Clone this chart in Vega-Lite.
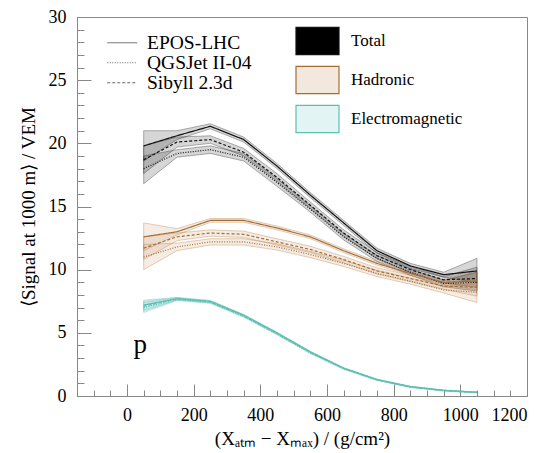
{
 "$schema": "https://vega.github.io/schema/vega-lite/v6.json",
 "width": 450, "height": 379,
 "autosize": {"type": "none"},
 "padding": {"left": 77, "top": 17, "right": 17, "bottom": 57},
 "background": "white",
 "config": {
  "view": {"stroke": "#888", "strokeWidth": 1},
  "font": "Liberation Serif, serif",
  "axis": {"labelFont": "Liberation Serif, serif", "titleFont": "Liberation Serif, serif", "labelFontSize": 18, "titleFontSize": 19, "labelColor": "#000", "titleColor": "#000", "titleFontWeight": "normal", "domainColor": "#888", "tickColor": "#888", "grid": false}
 },
 "datasets": {
  "sig": [
   {"c":"Total","m":"EPOS-LHC","x":50,"y":19.8,"lo":18.6,"hi":21.0},
   {"c":"Total","m":"EPOS-LHC","x":150,"y":20.6,"lo":20.3,"hi":21.0},
   {"c":"Total","m":"EPOS-LHC","x":250,"y":21.35,"lo":21.15,"hi":21.55},
   {"c":"Total","m":"EPOS-LHC","x":350,"y":20.3,"lo":20.1,"hi":20.5},
   {"c":"Total","m":"EPOS-LHC","x":450,"y":18.2,"lo":18.0,"hi":18.4},
   {"c":"Total","m":"EPOS-LHC","x":550,"y":15.9,"lo":15.7,"hi":16.1},
   {"c":"Total","m":"EPOS-LHC","x":650,"y":13.7,"lo":13.5,"hi":13.9},
   {"c":"Total","m":"EPOS-LHC","x":750,"y":11.5,"lo":11.3,"hi":11.7},
   {"c":"Total","m":"EPOS-LHC","x":850,"y":10.3,"lo":10.1,"hi":10.5},
   {"c":"Total","m":"EPOS-LHC","x":950,"y":9.6,"lo":9.4,"hi":9.8},
   {"c":"Total","m":"EPOS-LHC","x":1050,"y":9.9,"lo":9.0,"hi":10.9},
   {"c":"Total","m":"Sibyll 2.3d","x":50,"y":18.7,"lo":17.6,"hi":19.8},
   {"c":"Total","m":"Sibyll 2.3d","x":150,"y":20.1,"lo":19.7,"hi":20.5},
   {"c":"Total","m":"Sibyll 2.3d","x":250,"y":20.3,"lo":20.0,"hi":20.6},
   {"c":"Total","m":"Sibyll 2.3d","x":350,"y":19.3,"lo":19.0,"hi":19.6},
   {"c":"Total","m":"Sibyll 2.3d","x":450,"y":17.3,"lo":17.0,"hi":17.6},
   {"c":"Total","m":"Sibyll 2.3d","x":550,"y":15.1,"lo":14.85,"hi":15.35},
   {"c":"Total","m":"Sibyll 2.3d","x":650,"y":12.9,"lo":12.65,"hi":13.15},
   {"c":"Total","m":"Sibyll 2.3d","x":750,"y":11.1,"lo":10.85,"hi":11.35},
   {"c":"Total","m":"Sibyll 2.3d","x":850,"y":10.0,"lo":9.75,"hi":10.25},
   {"c":"Total","m":"Sibyll 2.3d","x":950,"y":9.2,"lo":8.95,"hi":9.45},
   {"c":"Total","m":"Sibyll 2.3d","x":1050,"y":9.3,"lo":8.6,"hi":10.2},
   {"c":"Total","m":"QGSJet II-04","x":50,"y":18.0,"lo":16.8,"hi":19.0},
   {"c":"Total","m":"QGSJet II-04","x":150,"y":19.2,"lo":18.9,"hi":19.5},
   {"c":"Total","m":"QGSJet II-04","x":250,"y":19.5,"lo":19.2,"hi":19.8},
   {"c":"Total","m":"QGSJet II-04","x":350,"y":18.9,"lo":18.6,"hi":19.2},
   {"c":"Total","m":"QGSJet II-04","x":450,"y":16.9,"lo":16.6,"hi":17.2},
   {"c":"Total","m":"QGSJet II-04","x":550,"y":14.8,"lo":14.55,"hi":15.05},
   {"c":"Total","m":"QGSJet II-04","x":650,"y":12.6,"lo":12.35,"hi":12.85},
   {"c":"Total","m":"QGSJet II-04","x":750,"y":10.9,"lo":10.65,"hi":11.15},
   {"c":"Total","m":"QGSJet II-04","x":850,"y":9.8,"lo":9.55,"hi":10.05},
   {"c":"Total","m":"QGSJet II-04","x":950,"y":8.9,"lo":8.65,"hi":9.15},
   {"c":"Total","m":"QGSJet II-04","x":1050,"y":9.0,"lo":8.3,"hi":9.8},
   {"c":"Hadronic","m":"EPOS-LHC","x":50,"y":12.6,"lo":11.5,"hi":13.7},
   {"c":"Hadronic","m":"EPOS-LHC","x":150,"y":13.0,"lo":12.75,"hi":13.25},
   {"c":"Hadronic","m":"EPOS-LHC","x":250,"y":13.9,"lo":13.75,"hi":14.05},
   {"c":"Hadronic","m":"EPOS-LHC","x":350,"y":13.9,"lo":13.75,"hi":14.05},
   {"c":"Hadronic","m":"EPOS-LHC","x":450,"y":13.3,"lo":13.15,"hi":13.45},
   {"c":"Hadronic","m":"EPOS-LHC","x":550,"y":12.6,"lo":12.45,"hi":12.75},
   {"c":"Hadronic","m":"EPOS-LHC","x":650,"y":11.5,"lo":11.35,"hi":11.65},
   {"c":"Hadronic","m":"EPOS-LHC","x":750,"y":10.5,"lo":10.35,"hi":10.65},
   {"c":"Hadronic","m":"EPOS-LHC","x":850,"y":9.7,"lo":9.55,"hi":9.85},
   {"c":"Hadronic","m":"EPOS-LHC","x":950,"y":9.0,"lo":8.8,"hi":9.2},
   {"c":"Hadronic","m":"EPOS-LHC","x":1050,"y":9.1,"lo":8.4,"hi":9.8},
   {"c":"Hadronic","m":"Sibyll 2.3d","x":50,"y":11.7,"lo":10.8,"hi":12.6},
   {"c":"Hadronic","m":"Sibyll 2.3d","x":150,"y":12.6,"lo":12.3,"hi":12.9},
   {"c":"Hadronic","m":"Sibyll 2.3d","x":250,"y":12.9,"lo":12.65,"hi":13.15},
   {"c":"Hadronic","m":"Sibyll 2.3d","x":350,"y":12.8,"lo":12.55,"hi":13.05},
   {"c":"Hadronic","m":"Sibyll 2.3d","x":450,"y":12.2,"lo":11.95,"hi":12.45},
   {"c":"Hadronic","m":"Sibyll 2.3d","x":550,"y":11.6,"lo":11.35,"hi":11.85},
   {"c":"Hadronic","m":"Sibyll 2.3d","x":650,"y":10.8,"lo":10.55,"hi":11.05},
   {"c":"Hadronic","m":"Sibyll 2.3d","x":750,"y":9.9,"lo":9.65,"hi":10.15},
   {"c":"Hadronic","m":"Sibyll 2.3d","x":850,"y":9.3,"lo":9.05,"hi":9.55},
   {"c":"Hadronic","m":"Sibyll 2.3d","x":950,"y":8.7,"lo":8.45,"hi":8.95},
   {"c":"Hadronic","m":"Sibyll 2.3d","x":1050,"y":8.6,"lo":7.9,"hi":9.3},
   {"c":"Hadronic","m":"QGSJet II-04","x":50,"y":11.0,"lo":10.0,"hi":12.0},
   {"c":"Hadronic","m":"QGSJet II-04","x":150,"y":11.8,"lo":11.5,"hi":12.1},
   {"c":"Hadronic","m":"QGSJet II-04","x":250,"y":12.2,"lo":11.95,"hi":12.45},
   {"c":"Hadronic","m":"QGSJet II-04","x":350,"y":12.2,"lo":11.95,"hi":12.45},
   {"c":"Hadronic","m":"QGSJet II-04","x":450,"y":11.8,"lo":11.55,"hi":12.05},
   {"c":"Hadronic","m":"QGSJet II-04","x":550,"y":11.2,"lo":10.95,"hi":11.45},
   {"c":"Hadronic","m":"QGSJet II-04","x":650,"y":10.5,"lo":10.25,"hi":10.75},
   {"c":"Hadronic","m":"QGSJet II-04","x":750,"y":9.7,"lo":9.45,"hi":9.95},
   {"c":"Hadronic","m":"QGSJet II-04","x":850,"y":9.1,"lo":8.85,"hi":9.35},
   {"c":"Hadronic","m":"QGSJet II-04","x":950,"y":8.4,"lo":8.15,"hi":8.65},
   {"c":"Hadronic","m":"QGSJet II-04","x":1050,"y":8.2,"lo":7.4,"hi":8.9},
   {"c":"Electromagnetic","m":"EPOS-LHC","x":50,"y":7.2,"lo":6.8,"hi":7.6},
   {"c":"Electromagnetic","m":"EPOS-LHC","x":150,"y":7.7,"lo":7.6,"hi":7.8},
   {"c":"Electromagnetic","m":"EPOS-LHC","x":250,"y":7.5,"lo":7.42,"hi":7.58},
   {"c":"Electromagnetic","m":"EPOS-LHC","x":350,"y":6.4,"lo":6.33,"hi":6.47},
   {"c":"Electromagnetic","m":"EPOS-LHC","x":450,"y":5.0,"lo":4.94,"hi":5.06},
   {"c":"Electromagnetic","m":"EPOS-LHC","x":550,"y":3.5,"lo":3.45,"hi":3.55},
   {"c":"Electromagnetic","m":"EPOS-LHC","x":650,"y":2.2,"lo":2.16,"hi":2.24},
   {"c":"Electromagnetic","m":"EPOS-LHC","x":750,"y":1.3,"lo":1.27,"hi":1.33},
   {"c":"Electromagnetic","m":"EPOS-LHC","x":850,"y":0.75,"lo":0.72,"hi":0.78},
   {"c":"Electromagnetic","m":"EPOS-LHC","x":950,"y":0.45,"lo":0.42,"hi":0.48},
   {"c":"Electromagnetic","m":"EPOS-LHC","x":1050,"y":0.3,"lo":0.27,"hi":0.33},
   {"c":"Electromagnetic","m":"Sibyll 2.3d","x":50,"y":7.1,"lo":6.7,"hi":7.5},
   {"c":"Electromagnetic","m":"Sibyll 2.3d","x":150,"y":7.7,"lo":7.6,"hi":7.8},
   {"c":"Electromagnetic","m":"Sibyll 2.3d","x":250,"y":7.45,"lo":7.37,"hi":7.53},
   {"c":"Electromagnetic","m":"Sibyll 2.3d","x":350,"y":6.35,"lo":6.28,"hi":6.42},
   {"c":"Electromagnetic","m":"Sibyll 2.3d","x":450,"y":4.95,"lo":4.89,"hi":5.01},
   {"c":"Electromagnetic","m":"Sibyll 2.3d","x":550,"y":3.45,"lo":3.4,"hi":3.5},
   {"c":"Electromagnetic","m":"Sibyll 2.3d","x":650,"y":2.2,"lo":2.16,"hi":2.24},
   {"c":"Electromagnetic","m":"Sibyll 2.3d","x":750,"y":1.3,"lo":1.27,"hi":1.33},
   {"c":"Electromagnetic","m":"Sibyll 2.3d","x":850,"y":0.73,"lo":0.7,"hi":0.76},
   {"c":"Electromagnetic","m":"Sibyll 2.3d","x":950,"y":0.43,"lo":0.4,"hi":0.46},
   {"c":"Electromagnetic","m":"Sibyll 2.3d","x":1050,"y":0.28,"lo":0.25,"hi":0.31},
   {"c":"Electromagnetic","m":"QGSJet II-04","x":50,"y":7.0,"lo":6.6,"hi":7.4},
   {"c":"Electromagnetic","m":"QGSJet II-04","x":150,"y":7.65,"lo":7.55,"hi":7.75},
   {"c":"Electromagnetic","m":"QGSJet II-04","x":250,"y":7.4,"lo":7.32,"hi":7.48},
   {"c":"Electromagnetic","m":"QGSJet II-04","x":350,"y":6.3,"lo":6.23,"hi":6.37},
   {"c":"Electromagnetic","m":"QGSJet II-04","x":450,"y":4.9,"lo":4.84,"hi":4.96},
   {"c":"Electromagnetic","m":"QGSJet II-04","x":550,"y":3.4,"lo":3.35,"hi":3.45},
   {"c":"Electromagnetic","m":"QGSJet II-04","x":650,"y":2.15,"lo":2.11,"hi":2.19},
   {"c":"Electromagnetic","m":"QGSJet II-04","x":750,"y":1.25,"lo":1.22,"hi":1.28},
   {"c":"Electromagnetic","m":"QGSJet II-04","x":850,"y":0.7,"lo":0.67,"hi":0.73},
   {"c":"Electromagnetic","m":"QGSJet II-04","x":950,"y":0.42,"lo":0.39,"hi":0.45},
   {"c":"Electromagnetic","m":"QGSJet II-04","x":1050,"y":0.27,"lo":0.24,"hi":0.3}
  ],
  "ann": [{"label": "p", "x": 40, "y": 4}]
 },
 "resolve": {"axis": {"x": "independent", "y": "independent"}},
 "layer": [
  {
   "data": {"name": "sig"},
   "mark": {"type": "area", "fillOpacity": 0.16, "strokeOpacity": 0.4, "strokeWidth": 0.8},
   "encoding": {
    "x": {"field": "x", "type": "quantitative", "scale": {"domain": [-150, 1200], "nice": false, "zero": false},
      "axis": {"orient": "bottom", "values": [-150,-100,-50,0,50,100,150,200,250,300,350,400,450,500,550,600,650,700,750,800,850,900,950,1000,1050,1100,1150,1200], "labels": false, "tickSize": -6, "title": null}},
    "y": {"field": "lo", "type": "quantitative", "scale": {"domain": [0, 30], "nice": false},
      "axis": {"orient": "left", "values": [0,1,2,3,4,5,6,7,8,9,10,11,12,13,14,15,16,17,18,19,20,21,22,23,24,25,26,27,28,29,30], "labels": false, "tickSize": -7, "title": null}},
    "y2": {"field": "hi"},
    "fill": {"field": "c", "type": "nominal",
      "scale": {"domain": ["Total", "Hadronic", "Electromagnetic"], "range": ["#000000", "#c08a55", "#6fcac2"]},
      "legend": {"orient": "none", "legendX": 218, "legendY": 1.5, "title": null, "padding": 0,
        "symbolType": "M-1,-0.63L1,-0.63L1,0.63L-1,0.63Z", "symbolSize": 1849, "symbolStrokeWidth": 1.2,
        "labelFont": "Liberation Serif, serif", "labelFontSize": 17, "labelColor": "#000", "labelOffset": 11, "rowPadding": -3,
        "encode": {"symbols": {"update": {
          "fillOpacity": {"signal": "datum.value === 'Total' ? 1 : 0.2"},
          "opacity": {"value": 1},
          "stroke": {"signal": "datum.value === 'Total' ? '#000000' : datum.value === 'Hadronic' ? '#c09a72' : '#8fd6cf'"}
        }}}}},
    "stroke": {"field": "c", "type": "nominal",
      "scale": {"domain": ["Total", "Hadronic", "Electromagnetic"], "range": ["#111111", "#a86d33", "#5cbfb5"]}, "legend": null},
    "detail": {"field": "m"}
   }
  },
  {
   "data": {"name": "sig"},
   "mark": {"type": "line", "strokeWidth": 1.2},
   "encoding": {
    "x": {"field": "x", "type": "quantitative",
      "axis": {"orient": "bottom", "values": [0,200,400,600,800,1000,1200], "format": "d", "tickSize": -12, "labelPadding": 22, "title": "(Xₐₜₘ − Xₘₐₓ) / (g/cm²)", "titlePadding": 5}},
    "y": {"field": "y", "type": "quantitative",
      "axis": {"orient": "left", "values": [0,5,10,15,20,25,30], "tickSize": -14, "labelPadding": 25, "title": "⟨Signal at 1000 m⟩ / VEM", "titlePadding": 10}},
    "stroke": {"field": "c", "type": "nominal", "legend": null},
    "strokeDash": {"field": "m", "type": "nominal",
      "scale": {"domain": ["EPOS-LHC", "QGSJet II-04", "Sibyll 2.3d"], "range": [[1, 0], [1, 1.5], [3, 2]]},
      "legend": {"orient": "none", "legendX": 35.5, "legendY": 16, "title": null, "padding": 0,
        "symbolType": "M-2,0L2,0", "symbolSize": 225, "symbolStrokeWidth": 1, "symbolStrokeColor": "#666",
        "labelFont": "Liberation Serif, serif", "labelFontSize": 19.5, "labelColor": "#000", "labelOffset": 15, "rowPadding": -1,
        "encode": {"symbols": {"update": {"stroke": {"value": "#666"}, "opacity": {"value": 1}}}}}},
    "detail": {"field": "m"}
   }
  },
  {
   "data": {"name": "ann"},
   "mark": {"type": "text", "font": "Liberation Serif, serif", "fontSize": 27, "align": "center", "baseline": "middle", "color": "#000"},
   "encoding": {
    "x": {"field": "x", "type": "quantitative", "axis": null},
    "y": {"field": "y", "type": "quantitative", "axis": null},
    "text": {"field": "label"}
   }
  }
 ]
}
